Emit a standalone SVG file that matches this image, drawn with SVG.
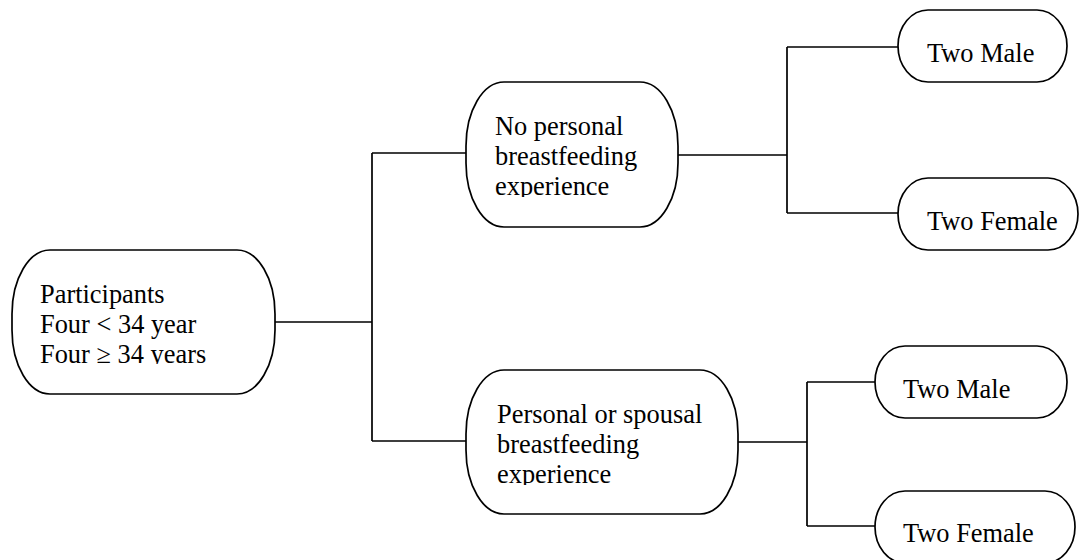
<svg xmlns="http://www.w3.org/2000/svg" width="1080" height="560" viewBox="0 0 1080 560">
<style>
.box{fill:#fff;stroke:#000;stroke-width:1.7}
.ln{fill:none;stroke:#000;stroke-width:1.7}
text{font-family:"Liberation Serif","Times New Roman",serif;font-size:26.4px;fill:#000}
</style>
<defs>
<clipPath id="c1"><rect x="20" y="260" width="250" height="104"/></clipPath>
<clipPath id="c2"><rect x="470" y="90" width="205" height="107"/></clipPath>
<clipPath id="c3"><rect x="470" y="380" width="265" height="105"/></clipPath>
</defs>
<rect width="1080" height="560" fill="#fff"/>
<g id="connectors">
<path class="ln" d="M275 322H372M372 153V441M372 153H466M372 441H466"/>
<path class="ln" d="M678 155H787M787 47V213M787 47H898M787 213H898"/>
<path class="ln" d="M738 442H807M807 382V526M807 382H875M807 526H875"/>
</g>
<g id="root">
<rect class="box" x="12" y="250" width="263" height="144" rx="38" ry="64"/>
<g clip-path="url(#c1)">
<text x="40" y="303">Participants</text>
<text x="40" y="333">Four &lt; 34 year</text>
<text x="40" y="363">Four ≥ 34 years</text>
</g>
</g>
<g id="no-personal">
<rect class="box" x="466" y="82" width="212" height="145" rx="38" ry="64"/>
<g clip-path="url(#c2)">
<text x="495" y="135">No personal</text>
<text x="495" y="165">breastfeeding</text>
<text x="495" y="195">experience</text>
</g>
</g>
<g id="personal">
<rect class="box" x="466" y="370" width="272" height="144" rx="38" ry="64"/>
<g clip-path="url(#c3)">
<text x="497" y="423">Personal or spousal</text>
<text x="497" y="453">breastfeeding</text>
<text x="497" y="483">experience</text>
</g>
</g>
<g id="male-1">
<rect class="box" x="898" y="10" width="169" height="72" rx="30" ry="36"/>
<text x="927" y="62">Two Male</text>
</g>
<g id="female-1">
<rect class="box" x="898" y="178" width="180" height="72" rx="30" ry="36"/>
<text x="927" y="230">Two Female</text>
</g>
<g id="male-2">
<rect class="box" x="875" y="346" width="192" height="72" rx="30" ry="36"/>
<text x="903" y="398">Two Male</text>
</g>
<g id="female-2">
<rect class="box" x="875" y="491" width="200" height="72" rx="30" ry="36"/>
<text x="903" y="542">Two Female</text>
</g>
</svg>
